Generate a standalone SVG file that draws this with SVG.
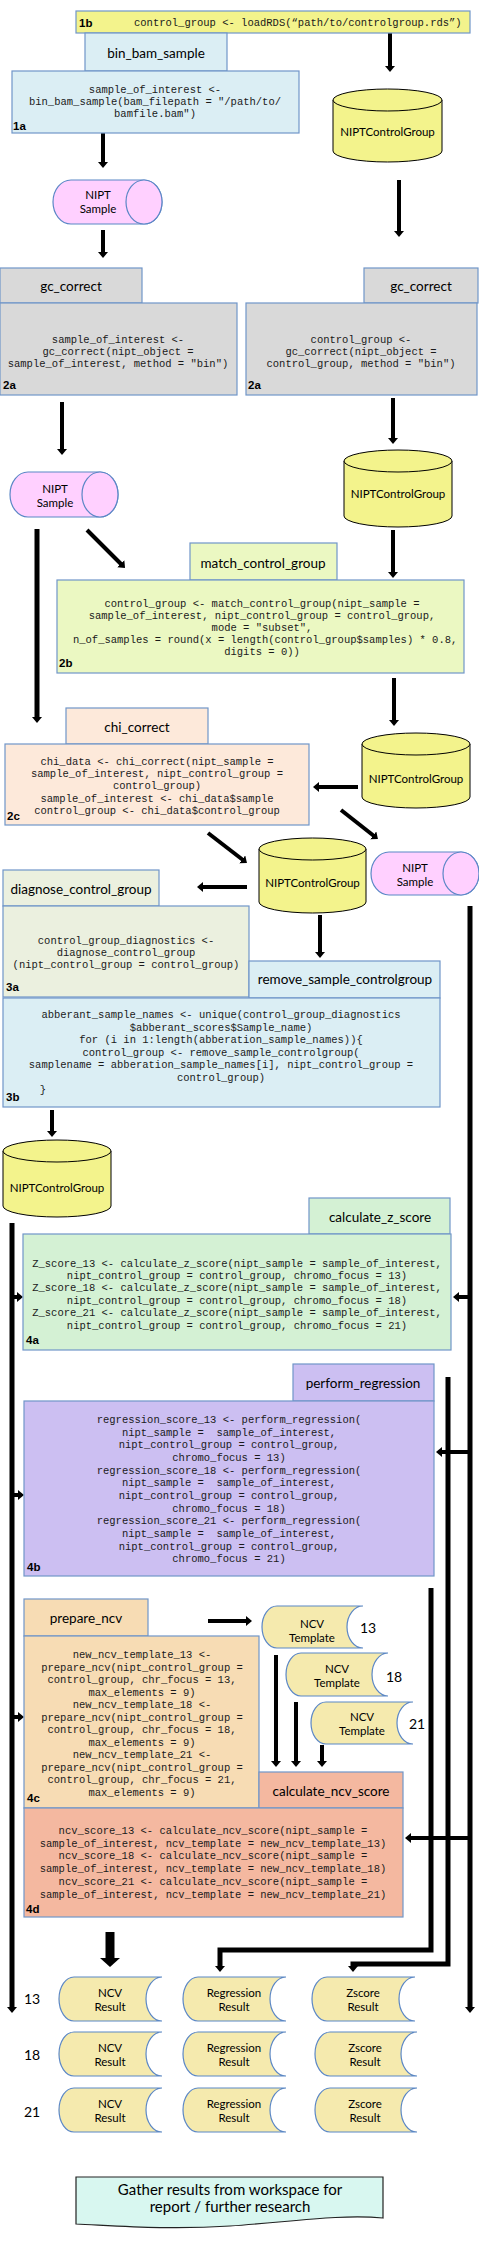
<svg xmlns="http://www.w3.org/2000/svg" width="479" height="2249" viewBox="0 0 479 2249">
<style>
.bx{stroke:#7096c9;stroke-width:1.2}
.code{font-family:"Liberation Mono","Courier New",monospace;font-size:10.5px;fill:#1a1a1a;text-anchor:middle;white-space:pre}
.hd{font-family:Lato,"Liberation Sans",sans-serif;font-size:13.5px;fill:#000;text-anchor:middle}
.lb{font-family:"Liberation Sans",Arial,sans-serif;font-size:11.5px;font-weight:bold;fill:#000}
.sm{font-family:Lato,"Liberation Sans",sans-serif;font-size:11.5px;fill:#000;text-anchor:middle}
.num{font-family:Lato,"Liberation Sans",sans-serif;font-size:14px;fill:#000;text-anchor:middle}
.cyl{fill:#f3f38c;stroke:#000;stroke-width:1}
.pink{fill:#ffd0ff;stroke:#5b87c6;stroke-width:1.2}
.doc{fill:#f5eaae;stroke:#5b87c6;stroke-width:1.2}
.ar{fill:none;stroke:#000;stroke-width:4;marker-end:url(#ah)}
.ln{fill:none;stroke:#000;stroke-width:5;stroke-linejoin:miter}
.ar5{fill:none;stroke:#000;stroke-width:5;stroke-linejoin:miter;marker-end:url(#ah)}
.big{fill:none;stroke:#000;stroke-width:9;marker-end:url(#ahb)}
</style>
<defs>
<marker id="ah" viewBox="0 -5 6 10" refX="1" refY="0" markerWidth="6" markerHeight="10" markerUnits="userSpaceOnUse" orient="auto"><path d="M0,-5 L6,0 L0,5 z" fill="#000"/></marker>
<marker id="ahb" viewBox="0 -10 9 20" refX="1" refY="0" markerWidth="9" markerHeight="20" markerUnits="userSpaceOnUse" orient="auto"><path d="M0,-10 L9,0 L0,10 z" fill="#000"/></marker>
</defs>
<rect width="479" height="2249" fill="#fff"/>

<g id="connectors">
<path class="ar" d="M103,133 V163"/>
<path class="ar" d="M390,33 V67"/>
<path class="ar" d="M399,180 V232"/>
<path class="ar" d="M103,230 V253"/>
<path class="ar" d="M62,402 V450"/>
<path class="ar" d="M393,398 V439"/>
<path class="ar5" d="M37,529 V718"/>
<path class="ar" d="M87,530 L121.5,564.5"/>
<path class="ar" d="M393,530 V573"/>
<path class="ar" d="M394,678 V721"/>
<path class="ar" d="M358,787 H318"/>
<path class="ar" d="M208,833 L243,860"/>
<path class="ar" d="M341,810 L374,836"/>
<path class="ar" d="M247,887 H202"/>
<path class="ar" d="M320,915 V953"/>
<path class="ar5" d="M470,906 V2008"/>
<path class="ar" d="M52,1110 V1132"/>
<path class="ar5" d="M12,1223 V2008"/>
<path class="ar" d="M12,1297 H18"/>
<path class="ar" d="M470,1297 H458"/>
<path class="ar" d="M470,1452 H441"/>
<path class="ar" d="M12,1495 H19"/>
<path class="ar" d="M12,1717 H19"/>
<path class="ar" d="M470,1838 H410"/>
<path class="ar5" d="M448,1377 V1964 H353 V1967"/>
<path class="ar5" d="M431,1588 V1950 H220 V1967"/>
<path class="ar" d="M208,1621 H247"/>
<path class="ar" d="M276,1655 V1762"/>
<path class="ar" d="M296,1702 V1762"/>
<path class="ar" d="M322,1745 V1762"/>
<path class="big" d="M110,1932 V1959"/>
</g>

<g id="n1b">
<rect class="bx" x="76" y="11" width="394" height="22" fill="#f3f38c"/>
<text class="lb" x="79" y="27">1b</text>
<text class="code" x="134" y="26" style="text-anchor:start">control_group &lt;- loadRDS(“path/to/controlgroup.rds”)</text>
</g>

<g id="n1a">
<rect class="bx" x="85" y="33" width="142" height="38" fill="#dbeef4"/>
<text class="hd" x="156" y="58">bin_bam_sample</text>
<rect class="bx" x="12" y="71" width="287" height="62" fill="#dbeef4"/>
<text class="code" x="155" y="93">sample_of_interest &lt;-</text>
<text class="code" x="155" y="105">bin_bam_sample(bam_filepath = "/path/to/</text>
<text class="code" x="155" y="117">bamfile.bam")</text>
<text class="lb" x="13" y="130">1a</text>
</g>

<g id="cg1">
<path class="cyl" d="M333,100 A54.5,11 0 0 1 442,100 V151 A54.5,11 0 0 1 333,151 Z"/>
<path class="cyl" d="M333,100 A54.5,11 0 0 0 442,100" fill="none"/>
<text class="sm" x="387.5" y="136">NIPTControlGroup</text>
</g>

<g id="ns1">
<path class="pink" d="M71,180 H144 A18,22 0 0 1 144,224 H71 A18,22 0 0 1 71,180 Z"/>
<ellipse class="pink" cx="144" cy="202" rx="18" ry="22"/>
<text class="sm" x="98" y="199">NIPT</text>
<text class="sm" x="98" y="213">Sample</text>
</g>

<g id="n2a-left">
<rect class="bx" x="0" y="268" width="142" height="35" fill="#d9d9d9"/>
<text class="hd" x="71" y="291">gc_correct</text>
<rect class="bx" x="0" y="303" width="237" height="92" fill="#d9d9d9"/>
<text class="code" x="118" y="343">sample_of_interest &lt;-</text>
<text class="code" x="118" y="355">gc_correct(nipt_object =</text>
<text class="code" x="118" y="367">sample_of_interest, method = "bin")</text>
<text class="lb" x="3" y="389">2a</text>
</g>

<g id="n2a-right">
<rect class="bx" x="364" y="268" width="114" height="35" fill="#d9d9d9"/>
<text class="hd" x="421" y="291">gc_correct</text>
<rect class="bx" x="246" y="303" width="231" height="92" fill="#d9d9d9"/>
<text class="code" x="361" y="343">control_group &lt;-</text>
<text class="code" x="361" y="355">gc_correct(nipt_object =</text>
<text class="code" x="361" y="367">control_group, method = "bin")</text>
<text class="lb" x="248" y="389">2a</text>
</g>

<g id="ns2">
<path class="pink" d="M28,472 H100 A18,22.5 0 0 1 100,517 H28 A18,22.5 0 0 1 28,472 Z"/>
<ellipse class="pink" cx="100" cy="494.5" rx="18" ry="22.5"/>
<text class="sm" x="55" y="493">NIPT</text>
<text class="sm" x="55" y="507">Sample</text>
</g>

<g id="cg2">
<path class="cyl" d="M344,461 A54,11 0 0 1 452,461 V516 A54,11 0 0 1 344,516 Z"/>
<path class="cyl" d="M344,461 A54,11 0 0 0 452,461" fill="none"/>
<text class="sm" x="398" y="498">NIPTControlGroup</text>
</g>

<g id="n2b">
<rect class="bx" x="190" y="543" width="147" height="37" fill="#ebf8c2"/>
<text class="hd" x="263" y="568">match_control_group</text>
<rect class="bx" x="57" y="580" width="407" height="93" fill="#ebf8c2"/>
<text class="code" x="262" y="607">control_group &lt;- match_control_group(nipt_sample =</text>
<text class="code" x="262" y="619">sample_of_interest, nipt_control_group = control_group,</text>
<text class="code" x="262" y="631">mode = "subset",</text>
<text class="code" x="262" y="643"> n_of_samples = round(x = length(control_group$samples) * 0.8,</text>
<text class="code" x="262" y="655">digits = 0))</text>
<text class="lb" x="59" y="667">2b</text>
</g>

<g id="n2c">
<rect class="bx" x="66" y="708" width="142" height="36" fill="#fde9da"/>
<text class="hd" x="137" y="732">chi_correct</text>
<rect class="bx" x="5" y="744" width="304" height="81" fill="#fde9da"/>
<text class="code" x="157" y="765">chi_data &lt;- chi_correct(nipt_sample =</text>
<text class="code" x="157" y="777">sample_of_interest, nipt_control_group =</text>
<text class="code" x="157" y="789">control_group)</text>
<text class="code" x="157" y="802">sample_of_interest &lt;- chi_data$sample</text>
<text class="code" x="157" y="814">control_group &lt;- chi_data$control_group</text>
<text class="lb" x="7" y="820">2c</text>
</g>

<g id="cg3">
<path class="cyl" d="M362,744 A54,11 0 0 1 470,744 V797 A54,11 0 0 1 362,797 Z"/>
<path class="cyl" d="M362,744 A54,11 0 0 0 470,744" fill="none"/>
<text class="sm" x="416" y="783">NIPTControlGroup</text>
</g>

<g id="cg4">
<path class="cyl" d="M259,849 A53.5,11 0 0 1 366,849 V902 A53.5,11 0 0 1 259,902 Z"/>
<path class="cyl" d="M259,849 A53.5,11 0 0 0 366,849" fill="none"/>
<text class="sm" x="312.5" y="887">NIPTControlGroup</text>
</g>

<g id="ns3">
<path class="pink" d="M389,852 H461 A18,21.5 0 0 1 461,895 H389 A18,21.5 0 0 1 389,852 Z"/>
<ellipse class="pink" cx="461" cy="873.5" rx="18" ry="21.5"/>
<text class="sm" x="415" y="872">NIPT</text>
<text class="sm" x="415" y="886">Sample</text>
</g>

<g id="n3a">
<rect class="bx" x="3" y="870" width="156" height="36" fill="#ebf0df"/>
<text class="hd" x="81" y="894">diagnose_control_group</text>
<rect class="bx" x="3" y="906" width="246" height="91" fill="#ebf0df"/>
<text class="code" x="126" y="944">control_group_diagnostics &lt;-</text>
<text class="code" x="126" y="956">diagnose_control_group</text>
<text class="code" x="126" y="968">(nipt_control_group = control_group)</text>
<text class="lb" x="6" y="991">3a</text>
</g>

<g id="n3b">
<rect class="bx" x="249" y="961" width="191" height="37" fill="#dbeef4"/>
<text class="hd" x="345" y="984">remove_sample_controlgroup</text>
<rect class="bx" x="3" y="998" width="437" height="109" fill="#dbeef4"/>
<text class="code" x="221" y="1018">abberant_sample_names &lt;- unique(control_group_diagnostics</text>
<text class="code" x="221" y="1031">$abberant_scores$Sample_name)</text>
<text class="code" x="221" y="1043">for (i in 1:length(abberation_sample_names)){</text>
<text class="code" x="221" y="1056">control_group &lt;- remove_sample_controlgroup(</text>
<text class="code" x="221" y="1068">samplename = abberation_sample_names[i], nipt_control_group =</text>
<text class="code" x="221" y="1081">control_group)</text>
<text class="code" x="43" y="1093">}</text>
<text class="lb" x="6" y="1101">3b</text>
</g>

<g id="cg5">
<path class="cyl" d="M3,1151 A54,11 0 0 1 111,1151 V1206 A54,11 0 0 1 3,1206 Z"/>
<path class="cyl" d="M3,1151 A54,11 0 0 0 111,1151" fill="none"/>
<text class="sm" x="57" y="1192">NIPTControlGroup</text>
</g>

<g id="n4a">
<rect class="bx" x="309" y="1198" width="141" height="36" fill="#d4f1d4"/>
<text class="hd" x="380" y="1222">calculate_z_score</text>
<rect class="bx" x="23" y="1234" width="428" height="116" fill="#d4f1d4"/>
<text class="code" x="237" y="1267">Z_score_13 &lt;- calculate_z_score(nipt_sample = sample_of_interest,</text>
<text class="code" x="237" y="1279">nipt_control_group = control_group, chromo_focus = 13)</text>
<text class="code" x="237" y="1291">Z_score_18 &lt;- calculate_z_score(nipt_sample = sample_of_interest,</text>
<text class="code" x="237" y="1304">nipt_control_group = control_group, chromo_focus = 18)</text>
<text class="code" x="237" y="1316">Z_score_21 &lt;- calculate_z_score(nipt_sample = sample_of_interest,</text>
<text class="code" x="237" y="1329">nipt_control_group = control_group, chromo_focus = 21)</text>
<text class="lb" x="26" y="1344">4a</text>
</g>

<g id="n4b">
<rect class="bx" x="293" y="1364" width="141" height="37" fill="#ccbff2"/>
<text class="hd" x="363" y="1388">perform_regression</text>
<rect class="bx" x="24" y="1401" width="410" height="175" fill="#ccbff2"/>
<text class="code" x="229" y="1423">regression_score_13 &lt;- perform_regression(</text>
<text class="code" x="229" y="1435.6">nipt_sample =  sample_of_interest,</text>
<text class="code" x="229" y="1448.3">nipt_control_group = control_group,</text>
<text class="code" x="229" y="1461">chromo_focus = 13)</text>
<text class="code" x="229" y="1473.5">regression_score_18 &lt;- perform_regression(</text>
<text class="code" x="229" y="1486.2">nipt_sample =  sample_of_interest,</text>
<text class="code" x="229" y="1498.8">nipt_control_group = control_group,</text>
<text class="code" x="229" y="1511.5">chromo_focus = 18)</text>
<text class="code" x="229" y="1524.2">regression_score_21 &lt;- perform_regression(</text>
<text class="code" x="229" y="1536.8">nipt_sample =  sample_of_interest,</text>
<text class="code" x="229" y="1549.5">nipt_control_group = control_group,</text>
<text class="code" x="229" y="1562">chromo_focus = 21)</text>
<text class="lb" x="27" y="1571">4b</text>
</g>

<g id="n4c">
<rect class="bx" x="24" y="1599" width="124" height="37" fill="#f7dcb4"/>
<text class="hd" x="86" y="1623">prepare_ncv</text>
<rect class="bx" x="24" y="1636" width="235" height="172" fill="#f7dcb4"/>
<text class="code" x="142" y="1658">new_ncv_template_13 &lt;-</text>
<text class="code" x="142" y="1670.5">prepare_ncv(nipt_control_group =</text>
<text class="code" x="142" y="1683">control_group, chr_focus = 13,</text>
<text class="code" x="142" y="1695.5">max_elements = 9)</text>
<text class="code" x="142" y="1708">new_ncv_template_18 &lt;-</text>
<text class="code" x="142" y="1720.5">prepare_ncv(nipt_control_group =</text>
<text class="code" x="142" y="1733">control_group, chr_focus = 18,</text>
<text class="code" x="142" y="1745.5">max_elements = 9)</text>
<text class="code" x="142" y="1758">new_ncv_template_21 &lt;-</text>
<text class="code" x="142" y="1770.5">prepare_ncv(nipt_control_group =</text>
<text class="code" x="142" y="1783">control_group, chr_focus = 21,</text>
<text class="code" x="142" y="1795.5">max_elements = 9)</text>
<text class="lb" x="27" y="1802">4c</text>
</g>

<g id="ncv13">
<path class="doc" d="M277,1606 H363 A16,21 0 0 0 363,1648 H277 A15,21 0 0 1 277,1606 Z"/>
<text class="sm" x="312" y="1628">NCV</text>
<text class="sm" x="312" y="1642">Template</text>
<text class="num" x="368" y="1633">13</text>
</g>
<g id="ncv18">
<path class="doc" d="M301,1653 H388 A16,21.5 0 0 0 388,1696 H301 A15,21.5 0 0 1 301,1653 Z"/>
<text class="sm" x="337" y="1673">NCV</text>
<text class="sm" x="337" y="1687">Template</text>
<text class="num" x="394" y="1682">18</text>
</g>
<g id="ncv21">
<path class="doc" d="M326,1702 H413 A16,21 0 0 0 413,1744 H326 A15,21 0 0 1 326,1702 Z"/>
<text class="sm" x="362" y="1721">NCV</text>
<text class="sm" x="362" y="1735">Template</text>
<text class="num" x="417" y="1729">21</text>
</g>

<g id="n4d">
<rect class="bx" x="259" y="1772" width="144" height="36" fill="#f4b8a0"/>
<text class="hd" x="331" y="1796">calculate_ncv_score</text>
<rect class="bx" x="24" y="1808" width="379" height="109" fill="#f4b8a0"/>
<text class="code" x="213" y="1834">ncv_score_13 &lt;- calculate_ncv_score(nipt_sample =</text>
<text class="code" x="213" y="1847">sample_of_interest, ncv_template = new_ncv_template_13)</text>
<text class="code" x="213" y="1859">ncv_score_18 &lt;- calculate_ncv_score(nipt_sample =</text>
<text class="code" x="213" y="1872">sample_of_interest, ncv_template = new_ncv_template_18)</text>
<text class="code" x="213" y="1885">ncv_score_21 &lt;- calculate_ncv_score(nipt_sample =</text>
<text class="code" x="213" y="1898">sample_of_interest, ncv_template = new_ncv_template_21)</text>
<text class="lb" x="26" y="1913">4d</text>
</g>

<g id="results">
<text class="num" x="32" y="2004">13</text>
<text class="num" x="32" y="2060">18</text>
<text class="num" x="32" y="2117">21</text>
<g id="ncv-result-13"><path class="doc" d="M74,1977 H162 A16,22 0 0 0 162,2021 H74 A15,22 0 0 1 74,1977 Z"/><text class="sm" x="110" y="1997">NCV</text><text class="sm" x="110" y="2011">Result</text></g>
<g id="reg-result-13"><path class="doc" d="M198,1977 H286 A16,22 0 0 0 286,2021 H198 A15,22 0 0 1 198,1977 Z"/><text class="sm" x="234" y="1997">Regression</text><text class="sm" x="234" y="2011">Result</text></g>
<g id="z-result-13"><path class="doc" d="M327,1977 H415 A16,22 0 0 0 415,2021 H327 A15,22 0 0 1 327,1977 Z"/><text class="sm" x="363" y="1997">Zscore</text><text class="sm" x="363" y="2011">Result</text></g>
<g id="ncv-result-18"><path class="doc" d="M74,2032 H162 A16,22 0 0 0 162,2076 H74 A15,22 0 0 1 74,2032 Z"/><text class="sm" x="110" y="2052">NCV</text><text class="sm" x="110" y="2066">Result</text></g>
<g id="reg-result-18"><path class="doc" d="M198,2032 H286 A16,22 0 0 0 286,2076 H198 A15,22 0 0 1 198,2032 Z"/><text class="sm" x="234" y="2052">Regression</text><text class="sm" x="234" y="2066">Result</text></g>
<g id="z-result-18"><path class="doc" d="M330,2032 H417 A16,22 0 0 0 417,2076 H330 A15,22 0 0 1 330,2032 Z"/><text class="sm" x="365" y="2052">Zscore</text><text class="sm" x="365" y="2066">Result</text></g>
<g id="ncv-result-21"><path class="doc" d="M74,2088 H162 A16,22 0 0 0 162,2132 H74 A15,22 0 0 1 74,2088 Z"/><text class="sm" x="110" y="2108">NCV</text><text class="sm" x="110" y="2122">Result</text></g>
<g id="reg-result-21"><path class="doc" d="M198,2088 H286 A16,22 0 0 0 286,2132 H198 A15,22 0 0 1 198,2088 Z"/><text class="sm" x="234" y="2108">Regression</text><text class="sm" x="234" y="2122">Result</text></g>
<g id="z-result-21"><path class="doc" d="M330,2088 H417 A16,22 0 0 0 417,2132 H330 A15,22 0 0 1 330,2088 Z"/><text class="sm" x="365" y="2108">Zscore</text><text class="sm" x="365" y="2122">Result</text></g>
</g>

<g id="gather">
<path d="M76,2177 H383 V2218 C340,2214 290,2222 230,2226 C170,2230 120,2226 76,2224 Z" fill="#d8f7f0" stroke="#222" stroke-width="1.2"/>
<text class="hd" x="230" y="2195" style="font-size:15px">Gather results from workspace for</text>
<text class="hd" x="230" y="2212" style="font-size:15px">report / further research</text>
</g>
</svg>
